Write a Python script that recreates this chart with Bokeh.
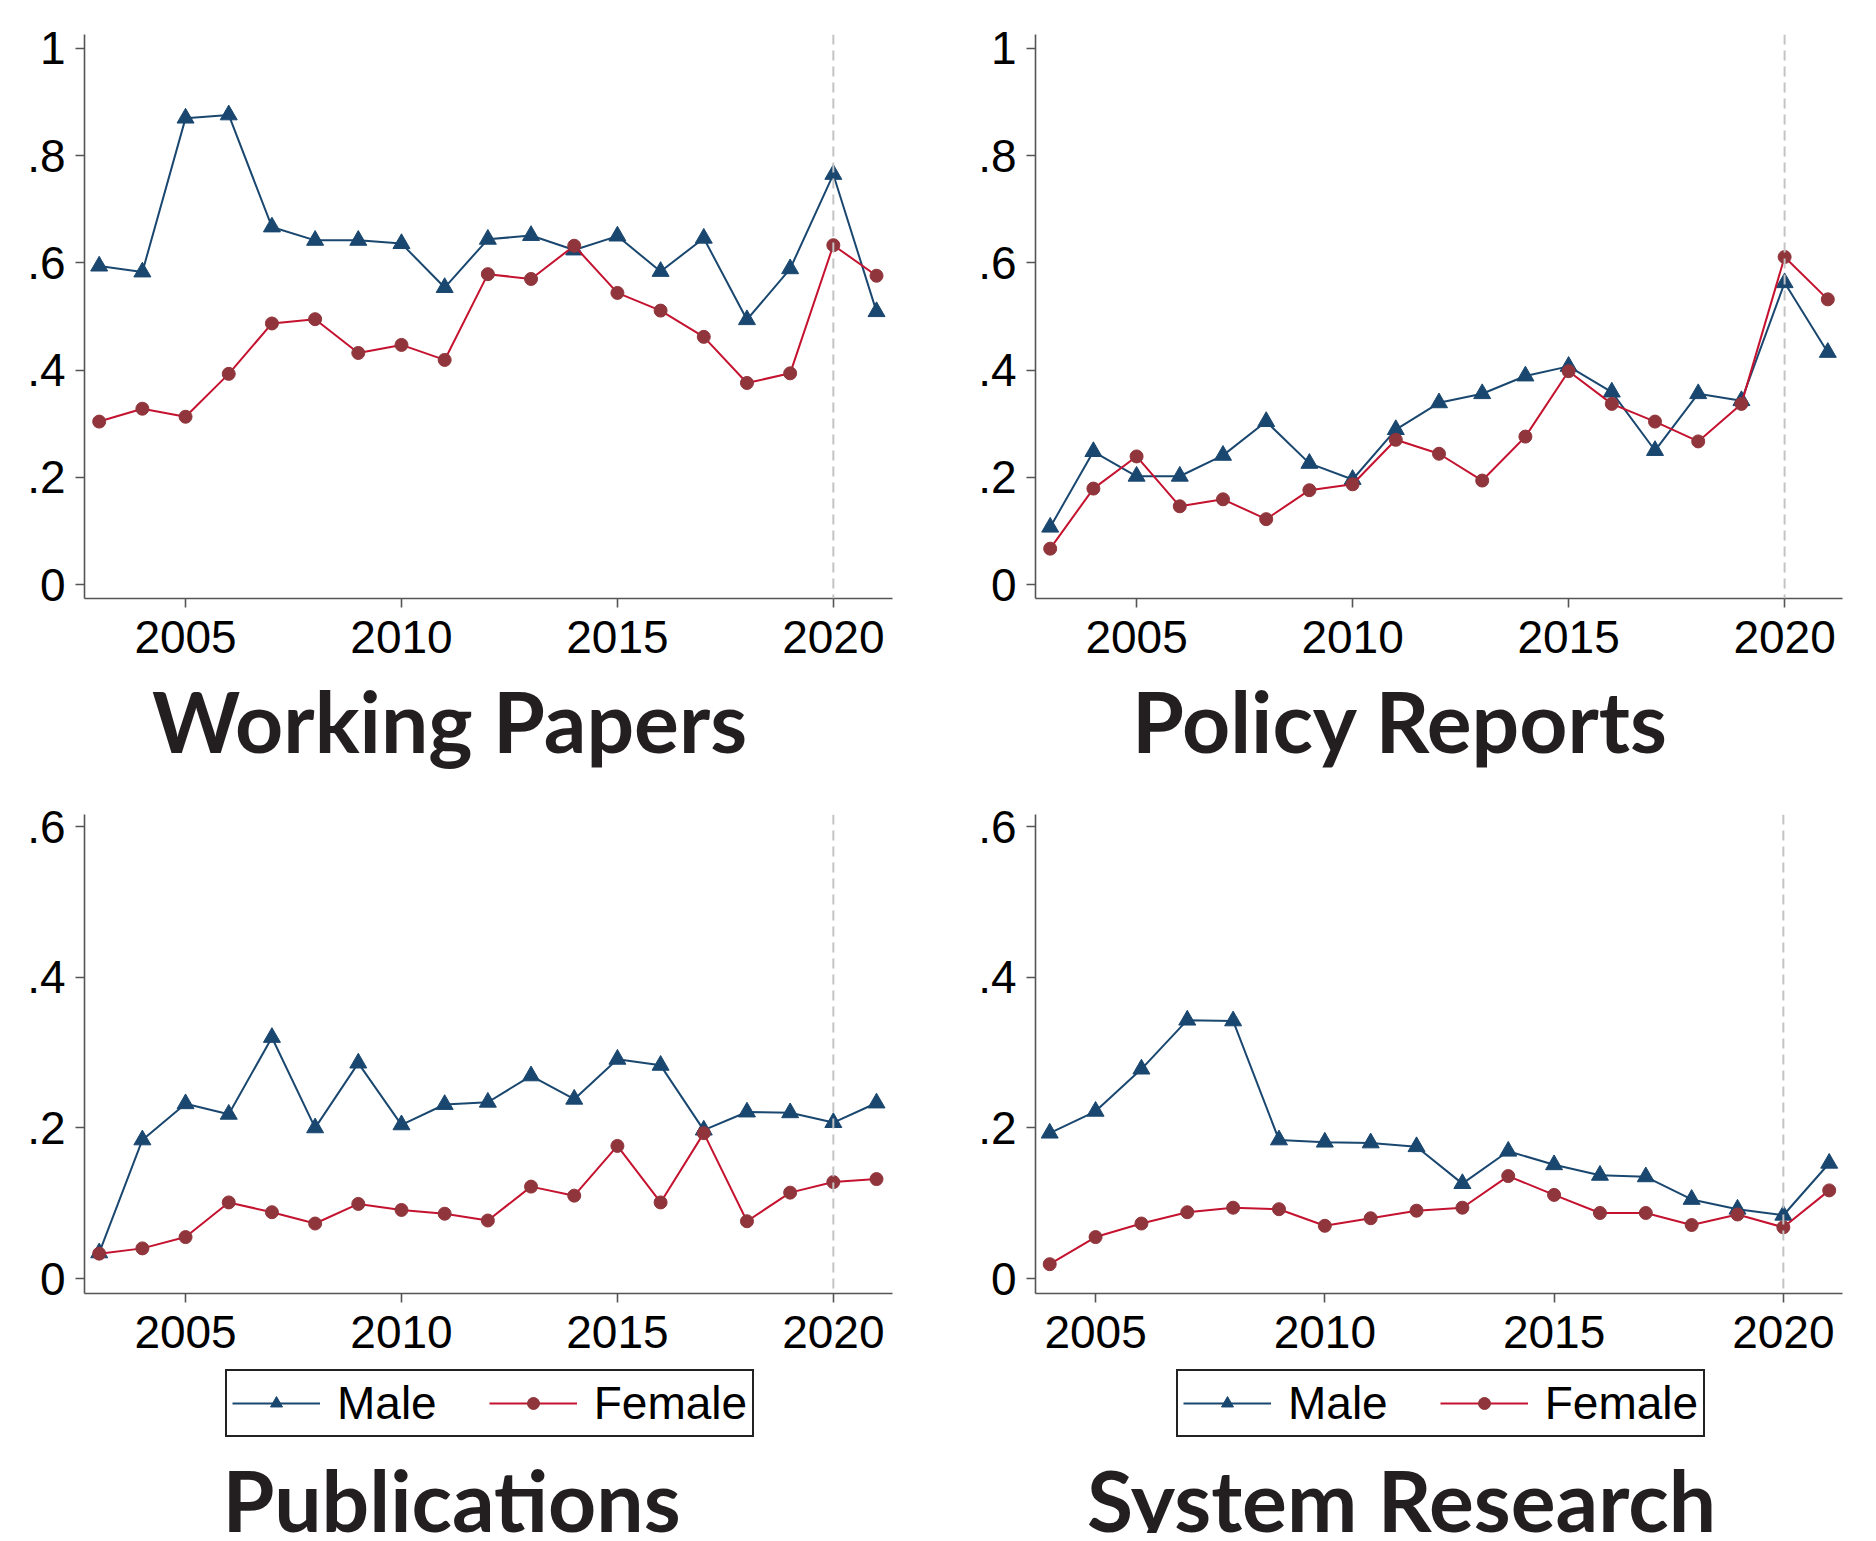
from bokeh.plotting import figure
from bokeh.models import Legend, LegendItem, Span, FixedTicker, Range1d
from bokeh.layouts import column, row
from bokeh.core.properties import value
from bokeh.embed import file_html
from bokeh.resources import INLINE

# ---------------- data ----------------
years_a = list(range(2003, 2022))
years_b = list(range(2004, 2022))

wp_male = [0.594, 0.583, 0.870, 0.876, 0.667, 0.642, 0.642, 0.636, 0.554, 0.644,
           0.651, 0.624, 0.650, 0.584, 0.646, 0.494, 0.589, 0.765, 0.509]
wp_female = [0.304, 0.328, 0.313, 0.393, 0.487, 0.495, 0.432, 0.447, 0.419, 0.579,
             0.570, 0.632, 0.544, 0.511, 0.462, 0.376, 0.394, 0.633, 0.576]

pr_male = [0.107, 0.248, 0.202, 0.202, 0.241, 0.304, 0.226, 0.196, 0.289, 0.339,
           0.356, 0.389, 0.407, 0.359, 0.250, 0.356, 0.343, 0.563, 0.433]
pr_female = [0.067, 0.179, 0.239, 0.146, 0.159, 0.122, 0.176, 0.187, 0.270, 0.244,
             0.194, 0.276, 0.398, 0.337, 0.304, 0.267, 0.337, 0.611, 0.532]

pub_male = [0.034, 0.184, 0.232, 0.218, 0.320, 0.200, 0.286, 0.204, 0.231, 0.234,
            0.269, 0.238, 0.291, 0.283, 0.197, 0.221, 0.220, 0.207, 0.233]
pub_female = [0.033, 0.040, 0.055, 0.101, 0.088, 0.073, 0.099, 0.091, 0.086, 0.077,
              0.122, 0.110, 0.176, 0.101, 0.193, 0.076, 0.114, 0.128, 0.132]

sr_male = [0.193, 0.222, 0.278, 0.343, 0.342, 0.184, 0.181, 0.180, 0.175, 0.126,
           0.169, 0.151, 0.137, 0.135, 0.105, 0.092, 0.084, 0.153]
sr_female = [0.019, 0.055, 0.073, 0.088, 0.094, 0.092, 0.070, 0.080, 0.090, 0.094,
             0.136, 0.111, 0.087, 0.087, 0.071, 0.085, 0.068, 0.117]

x_ticks = [2005, 2010, 2015, 2020]
y_ticks_top = [0, 0.2, 0.4, 0.6, 0.8, 1.0]
y_labels_top = ["0", ".2", ".4", ".6", ".8", "1"]
y_ticks_bot = [0, 0.2, 0.4, 0.6]
y_labels_bot = ["0", ".2", ".4", ".6"]
titles = ["Working Papers", "Policy Reports", "Publications", "System Research"]
series_names = ["Male", "Female"]
covid_year = 2020

MALE = "#1a476f"
FEMALE_LINE = "#c4122f"
FEMALE_MARK = "#90353b"
AXIS = "#555555"
TICK_FONT = "Liberation Sans"


def no_align(fig):
    if "frame_align" in fig.properties():
        fig.frame_align = False


def style_series(p, years, male, female):
    lm = p.line(years, male, line_color=MALE, line_width=2)
    sm = p.scatter(years, male, marker="triangle", size=17, fill_color=MALE,
                   line_color=MALE)
    lf = p.line(years, female, line_color=FEMALE_LINE, line_width=2)
    sf = p.scatter(years, female, marker="circle", size=13, fill_color=FEMALE_MARK,
                   line_color=FEMALE_MARK)
    return lm, sm, lf, sf


def make_panel(years, male, female, xr, yr, yticks, ylabels, mb_left, mb_right,
               mb_top, frame_w, frame_h, mb_bottom):
    p = figure(frame_width=frame_w, frame_height=frame_h,
               min_border_left=mb_left, min_border_right=mb_right,
               min_border_top=mb_top, min_border_bottom=mb_bottom,
               x_range=Range1d(*xr), y_range=Range1d(*yr),
               output_backend="svg", toolbar_location=None)
    no_align(p)
    p.outline_line_color = None
    p.grid.visible = False
    p.background_fill_color = "white"
    p.border_fill_color = "white"

    for ax in (p.xaxis[0], p.yaxis[0]):
        ax.axis_line_color = AXIS
        ax.axis_line_width = 1.6
        ax.major_tick_line_color = AXIS
        ax.major_tick_line_width = 1.6
        ax.major_tick_out = 9
        ax.major_tick_in = 0
        ax.minor_tick_line_color = None
        ax.major_label_text_font = TICK_FONT
        ax.major_label_text_font_size = "46px"
        ax.major_label_text_color = "black"
    p.xaxis.ticker = FixedTicker(ticks=x_ticks)
    p.xaxis.major_label_standoff = 13
    p.yaxis.ticker = FixedTicker(ticks=yticks)
    p.yaxis.major_label_overrides = {t: l for t, l in zip(yticks, ylabels)}
    p.yaxis.major_label_standoff = 10

    p.add_layout(Span(location=covid_year, dimension="height", line_color="#c4c4c4",
                      line_width=2, line_dash="10 6"))
    style_series(p, years, male, female)
    return p


def make_caption(w, h, title, title_x, title_y, legend_xy=None):
    c = figure(frame_width=w, frame_height=h, min_border=0,
               min_border_left=0, min_border_right=0,
               min_border_top=0, min_border_bottom=0,
               x_range=Range1d(0, w), y_range=Range1d(0, h),
               x_axis_location=None, y_axis_location=None,
               output_backend="svg", toolbar_location=None)
    no_align(c)
    c.outline_line_color = None
    c.grid.visible = False
    c.border_fill_color = "white"
    c.background_fill_color = "white"
    if legend_xy is not None:
        lm, sm, lf, sf = style_series(c, [-1000], [-1000], [-1000])
        leg = Legend(items=[LegendItem(label=series_names[0], renderers=[lm, sm]),
                            LegendItem(label=series_names[1], renderers=[lf, sf])],
                     orientation="horizontal", location=legend_xy,
                     label_text_font=TICK_FONT, label_text_font_size="46px",
                     label_text_color="black", glyph_width=88, glyph_height=30,
                     label_standoff=17, spacing=52, padding=5, margin=0,
                     border_line_color="#222222", border_line_width=2,
                     border_line_alpha=1.0, background_fill_alpha=1.0)
        c.add_layout(leg, "center")
    c.text(x=[title_x], y=[title_y], text=[title], text_align="center",
           text_baseline="alphabetic", text_font=value("Lato"),
           text_font_style="bold", text_font_size="84px", text_color="#231f20")
    return c


p1 = make_panel(years_a, wp_male, wp_female, (2002.66, 2021.37), (-0.026, 1.026),
                y_ticks_top, y_labels_top, 84, 46, 34, 808, 564, 80)
p2 = make_panel(years_a, pr_male, pr_female, (2002.66, 2021.34), (-0.026, 1.026),
                y_ticks_top, y_labels_top, 97, 20, 34, 807, 564, 80)
p3 = make_panel(years_a, pub_male, pub_female, (2002.66, 2021.37), (-0.0199, 0.616),
                y_ticks_bot, y_labels_bot, 84, 46, 34, 808, 479, 73)
p4 = make_panel(years_b, sr_male, sr_female, (2003.69, 2021.29), (-0.0199, 0.616),
                y_ticks_bot, y_labels_bot, 97, 20, 34, 807, 479, 73)

c1 = make_caption(938, 102, titles[0], 449, 60)
c2 = make_caption(924, 102, titles[1], 462, 60)
c3 = make_caption(938, 167, titles[2], 451, 34, (225, 96))
c4 = make_caption(924, 167, titles[3], 463, 34, (238, 96))

layout = column(row(column(p1, c1), column(p2, c2)),
                row(column(p3, c3), column(p4, c4)))
open("out.html", "w").write(file_html(layout, INLINE))
